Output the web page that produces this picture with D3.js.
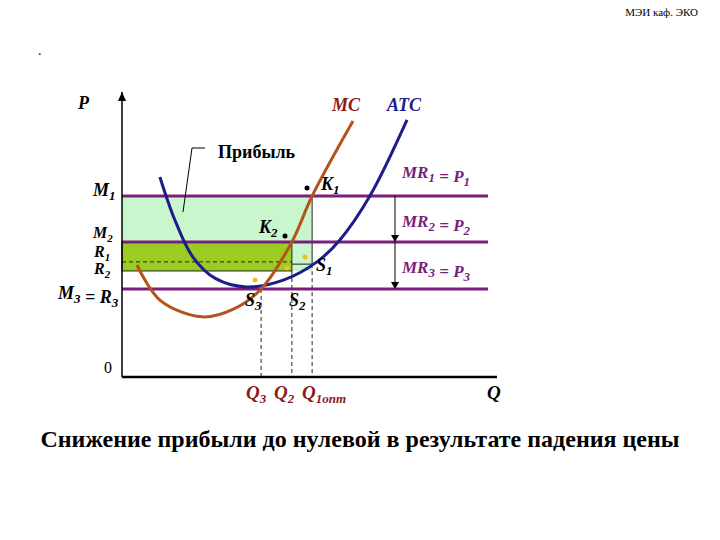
<!DOCTYPE html><html><head><meta charset="utf-8">
<script src="https://cdn.jsdelivr.net/npm/d3@7"></script>
<style>body{margin:0;background:#fff}</style></head><body>
<svg id="c" width="720" height="540" font-family="'Liberation Serif','DejaVu Serif',serif"></svg>
<script>
const atc=[[10.1,70.2],[14.1,55.1],[18.9,42.1],[25,34.5],[33.3,31.6],[43,34],[52,40.4],[58.1,48.1],[66.1,63.5],[76,90.2]];
const mc=[[4,39.3],[10.1,27],[21.3,21.1],[30,24],[37.1,30.9],[45.3,47.4],[50.7,63.5],[61.6,89.8]];
const levels={M1:63.5,M2:47.4,M3:30.9,R1:40.4,R2:37.2,S1:39.6};
const qs={Q3:37.1,Q2:45.3,Q1:50.7};
const lineEnd=97.6;
const svg=d3.select("#c");
const x=d3.scaleLinear().domain([0,100]).range([122,497]);
const y=d3.scaleLinear().domain([0,100]).range([377,92]);
const purple="#7a1e7e";
svg.append("text").attr("x",698).attr("y",16).attr("text-anchor","end").attr("font-size",11).text("МЭИ каф. ЭКО");
svg.append("text").attr("x",38).attr("y",55).attr("font-size",14).text(".");
svg.append("rect").attr("x",x(0)).attr("y",y(levels.M1)).attr("width",x(qs.Q1)-x(0)).attr("height",y(levels.R2)-y(levels.M1)).attr("fill","#c9f6cc");
svg.append("rect").attr("x",x(0)).attr("y",y(levels.M2)).attr("width",x(qs.Q2)-x(0)).attr("height",y(levels.R2)-y(levels.M2)).attr("fill","#9bcc22").attr("stroke","#222").attr("stroke-width",1);
svg.append("line").attr("x1",x(qs.Q1)).attr("x2",x(qs.Q1)).attr("y1",y(levels.M1)).attr("y2",y(levels.S1)).attr("stroke","#222");
svg.append("line").attr("x1",x(qs.Q2)).attr("x2",x(qs.Q1)).attr("y1",y(levels.S1)).attr("y2",y(levels.S1)).attr("stroke","#222");
svg.append("line").attr("x1",x(0)).attr("x2",x(qs.Q2)).attr("y1",y(levels.R1)).attr("y2",y(levels.R1)).attr("stroke","#222").attr("stroke-dasharray","4,3");
[["Q3",levels.M3],["Q2",levels.R2],["Q1",levels.S1]].forEach(([k,l])=>svg.append("line").attr("x1",x(qs[k])).attr("x2",x(qs[k])).attr("y1",y(l)).attr("y2",y(0)).attr("stroke","#222").attr("stroke-dasharray","4,3"));
["M1","M2","M3"].forEach(k=>svg.append("line").attr("x1",x(0)).attr("x2",x(lineEnd)).attr("y1",y(levels[k])).attr("y2",y(levels[k])).attr("stroke",purple).attr("stroke-width",3));
const ax=svg.append("g");
ax.append("line").attr("x1",x(0)).attr("x2",x(0)).attr("y1",y(0)).attr("y2",y(100)).attr("stroke","#000").attr("stroke-width",1.5);
ax.append("path").attr("d",`M${x(0)-4},${y(100)+9}L${x(0)},${y(100)}L${x(0)+4},${y(100)+9}Z`).attr("fill","#000");
ax.append("line").attr("x1",x(0)).attr("x2",x(100)).attr("y1",y(0)).attr("y2",y(0)).attr("stroke","#000").attr("stroke-width",2.5);
const ln=d3.line().x(d=>x(d[0])).y(d=>y(d[1])).curve(d3.curveCatmullRom);
svg.append("path").attr("d",ln(atc)).attr("fill","none").attr("stroke","#1c1c8a").attr("stroke-width",3);
svg.append("path").attr("d",ln(mc)).attr("fill","none").attr("stroke","#b5531c").attr("stroke-width",3);
[[levels.M1,levels.M2],[levels.M2,levels.M3]].forEach(([a,b])=>{svg.append("line").attr("x1",395).attr("x2",395).attr("y1",y(a)).attr("y2",y(b)-6).attr("stroke","#000");
svg.append("path").attr("d",`M391,${y(b)-7}L395,${y(b)}L399,${y(b)-7}Z`).attr("fill","#000");});
svg.append("path").attr("d","M183,212L192,148L205,148").attr("fill","none").attr("stroke","#000");
[[307,188],[285,236]].forEach(d=>svg.append("circle").attr("cx",d[0]).attr("cy",d[1]).attr("r",2.5).attr("fill","#000"));
[[305,257],[255,280],[287,268]].forEach(d=>svg.append("circle").attr("cx",d[0]).attr("cy",d[1]).attr("r",2.5).attr("fill","#f0c020"));
function t(s,xx,yy,opt={}){const e=svg.append("text").attr("x",xx).attr("y",yy).attr("font-size",opt.size||18).attr("font-style",opt.it===false?"normal":"italic").attr("font-weight",opt.bold===false?"normal":"bold").attr("fill",opt.fill||"#000").attr("text-anchor",opt.anchor||"start");e.html(s);return e;}
const sub=(s,f=13)=>`<tspan dy="4" font-size="${f}">${s}</tspan><tspan dy="-4"></tspan>`;
t("P",78,109);
t("MC",332,111,{fill:"#8b1a1a"});
t("ATC",387,111,{fill:"#1c1c8a"});
t("Прибыль",218,158,{it:false});
t("K"+sub("1"),321,190);
t("K"+sub("2"),259,233);
t("S"+sub("1"),316,271);
t("S"+sub("3"),245,306);
t("S"+sub("2"),289,306);
t("MR"+sub("1")+" = P"+sub("1"),402,178,{fill:purple,size:17});
t("MR"+sub("2")+" = P"+sub("2"),402,227,{fill:purple,size:17});
t("MR"+sub("3")+" = P"+sub("3"),402,273,{fill:purple,size:17});
t("M"+sub("1"),93,196);
t("M"+sub("2",11),93,238,{size:16});
t("R"+sub("1",11),94,257,{size:16});
t("R"+sub("2",11),94,274,{size:16});
t("M"+sub("3")+" = R"+sub("3"),58,299);
t("0",104,373,{it:false,bold:false,size:16});
t("Q"+sub("3"),246,399,{fill:"#8b1a1a",size:19});
t("Q"+sub("2"),274,399,{fill:"#8b1a1a",size:19});
t("Q"+sub("1опт"),302,399,{fill:"#8b1a1a",size:19});
t("Q",487,399,{size:19});
t("Снижение прибыли до нулевой в результате падения цены",360,447,{it:false,size:24,anchor:"middle"});
</script></body></html>
